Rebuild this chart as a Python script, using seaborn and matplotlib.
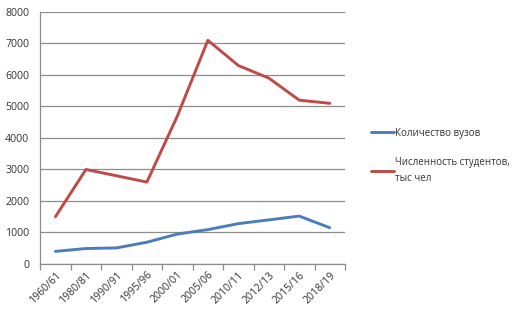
import matplotlib
matplotlib.use("Agg")
import matplotlib.pyplot as plt
import seaborn as sns
import pandas as pd
import numpy as np

years = ["1960/61", "1980/81", "1990/91", "1995/96", "2000/01", "2005/06",
         "2010/11", "2012/13", "2015/16", "2018/19"]
universities = [400, 490, 510, 690, 950, 1090, 1280, 1400, 1520, 1150]
students = [1500, 3000, 2800, 2600, 4700, 7100, 6300, 5900, 5200, 5100]
series_names = ["Количество вузов", "Численность студентов,\nтыс чел"]
colors = ["#4a7ebb", "#be4b48"]

sns.set_theme(style="white")
plt.rcParams['font.family'] = ['Open Sans', 'DejaVu Sans']

df = pd.DataFrame({
    "idx": list(range(len(years))) * 2,
    "value": universities + students,
    "series": [series_names[0]] * len(years) + [series_names[1]] * len(years),
})

fig = plt.figure(figsize=(5.22, 3.15), dpi=100)
ax = fig.add_axes([0.077, 0.162, 0.584, 0.8])
sns.lineplot(data=df, x="idx", y="value", hue="series", palette=colors,
             linewidth=2.1, ax=ax, legend=True)

ax.set_xlim(-0.5, len(years) - 0.5)
ax.set_ylim(0, 8000)
ax.set_yticks(range(0, 8001, 1000))
ax.tick_params(axis='y', labelsize=7.6, colors="#333333", length=0, pad=8)
ax.yaxis.grid(True, color="#8c8c8c", linewidth=0.9)
ax.set_axisbelow(True)

ax.set_xticks(np.arange(len(years)))
ax.set_xticklabels(years, rotation=45, ha="right", rotation_mode="anchor",
                   fontsize=7.6, color="#333333")
ax.set_xticks(np.arange(-0.5, len(years)), minor=True)
ax.tick_params(axis='x', which='major', length=0, pad=4)
ax.tick_params(axis='x', which='minor', length=4, color="#8c8c8c", width=0.9, bottom=True)
ax.set_xlabel("")
ax.set_ylabel("")

for s in ["top", "right"]:
    ax.spines[s].set_visible(False)
for s in ["left", "bottom"]:
    ax.spines[s].set_color("#8c8c8c")
    ax.spines[s].set_linewidth(0.9)

handles, labels = ax.get_legend_handles_labels()
leg = ax.legend(handles, labels, loc="center left", bbox_to_anchor=(1.055, 0.43),
                frameon=False, fontsize=7.0, handlelength=2.4, handletextpad=0.1,
                labelspacing=1.85, labelcolor="#333333")
for t in leg.get_texts():
    t.set_linespacing(1.6)

fig.savefig("out.png", dpi=100)
